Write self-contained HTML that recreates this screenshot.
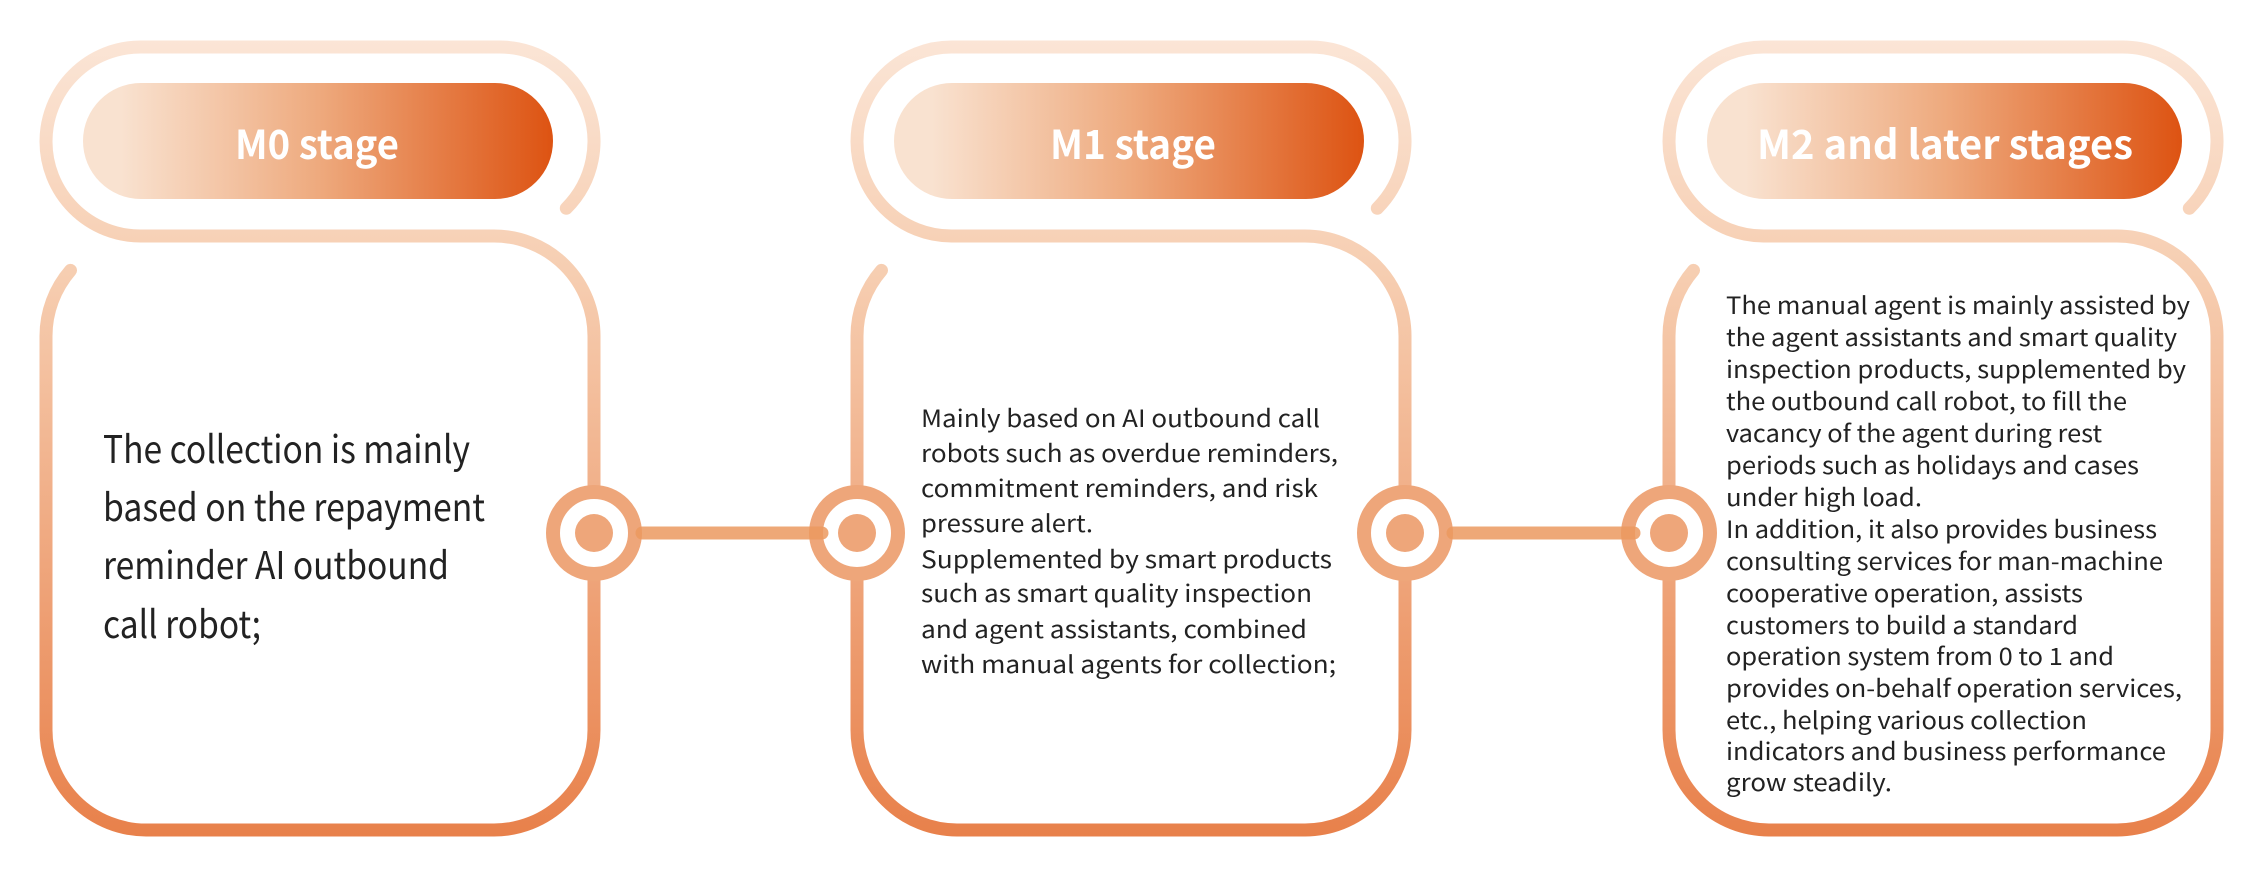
<!DOCTYPE html>
<html><head><meta charset="utf-8"><style>
html,body{margin:0;padding:0;background:#fff;}
svg{display:block;}
.t{font-family:"Noto Sans CJK SC","Liberation Sans",sans-serif;fill:#222;}
.h{font-family:"Noto Sans CJK SC","Liberation Sans",sans-serif;fill:#fff;font-weight:bold;font-size:40px;}
</style></head><body>
<svg width="2264" height="883" viewBox="0 0 2264 883" xmlns="http://www.w3.org/2000/svg">
<defs>
<linearGradient id="sg" gradientUnits="userSpaceOnUse" x1="0" y1="40" x2="0" y2="840">
<stop offset="0" stop-color="#fbe5d6"/>
<stop offset="0.3" stop-color="#f6cdb0"/>
<stop offset="1" stop-color="#e8804a"/>
</linearGradient>
<linearGradient id="pg" x1="0" y1="0" x2="1" y2="0">
<stop offset="0.08" stop-color="#f9e2d0"/>
<stop offset="0.5" stop-color="#eeaa7e"/>
<stop offset="1" stop-color="#dd5312"/>
</linearGradient>
</defs>
<g fill="none" stroke="url(#sg)" stroke-width="13" stroke-linecap="round">
<path d="M566.3 208.3 A94.5 94.5 0 0 0 499.5 47 L140.5 47 A94.5 94.5 0 0 0 140.5 236 L494 236 A100 100 0 0 1 594 336 L594 730 A100 100 0 0 1 494 830 L146 830 A100 100 0 0 1 46 730 L46 336 A100 100 0 0 1 70.5 270.4"/>
<path d="M1377.3 208.3 A94.5 94.5 0 0 0 1310.5 47 L951.5 47 A94.5 94.5 0 0 0 951.5 236 L1305 236 A100 100 0 0 1 1405 336 L1405 730 A100 100 0 0 1 1305 830 L957 830 A100 100 0 0 1 857 730 L857 336 A100 100 0 0 1 881.5 270.4"/>
<path d="M2189.3 208.3 A94.5 94.5 0 0 0 2122.5 47 L1763.5 47 A94.5 94.5 0 0 0 1763.5 236 L2117 236 A100 100 0 0 1 2217 336 L2217 730 A100 100 0 0 1 2117 830 L1769 830 A100 100 0 0 1 1669 730 L1669 336 A100 100 0 0 1 1693.5 270.4"/>
</g>
<rect x="83" y="83" width="470" height="116" rx="58" fill="url(#pg)"/>
<rect x="894" y="83" width="470" height="116" rx="58" fill="url(#pg)"/>
<rect x="1707" y="83" width="475" height="116" rx="58" fill="url(#pg)"/>
<text class="h" x="235" y="159" textLength="164" lengthAdjust="spacingAndGlyphs">M0 stage</text>
<text class="h" x="1050" y="159" textLength="166" lengthAdjust="spacingAndGlyphs">M1 stage</text>
<text class="h" x="1757" y="159" textLength="376" lengthAdjust="spacingAndGlyphs">M2 and later stages</text>
<g stroke="#eea67a" stroke-width="14" fill="#fff">
<circle cx="594" cy="533" r="41"/>
<circle cx="857" cy="533" r="41"/>
<circle cx="1405" cy="533" r="41"/>
<circle cx="1669" cy="533" r="41"/>
</g>
<g fill="#eea67a">
<circle cx="594" cy="533" r="19"/>
<circle cx="857" cy="533" r="19"/>
<circle cx="1405" cy="533" r="19"/>
<circle cx="1669" cy="533" r="19"/>
</g>
<g stroke="#eb995f" stroke-opacity="0.85" stroke-width="13" stroke-linecap="round">
<line x1="642" y1="533" x2="822" y2="533"/>
<line x1="1453" y1="533" x2="1634" y2="533"/>
</g>
<g class="t" font-size="38">
<text x="103" y="463" textLength="367" lengthAdjust="spacingAndGlyphs">The collection is mainly</text>
<text x="103" y="521" textLength="382" lengthAdjust="spacingAndGlyphs">based on the repayment</text>
<text x="103" y="579" textLength="346" lengthAdjust="spacingAndGlyphs">reminder AI outbound</text>
<text x="103" y="638" textLength="158" lengthAdjust="spacingAndGlyphs">call robot;</text>
</g>
<g class="t" font-size="24">
<text x="921" y="427" textLength="399" lengthAdjust="spacingAndGlyphs">Mainly based on AI outbound call</text>
<text x="921" y="462" textLength="417" lengthAdjust="spacingAndGlyphs">robots such as overdue reminders,</text>
<text x="921" y="497" textLength="397" lengthAdjust="spacingAndGlyphs">commitment reminders, and risk</text>
<text x="921" y="532" textLength="172" lengthAdjust="spacingAndGlyphs">pressure alert.</text>
<text x="921" y="568" textLength="411" lengthAdjust="spacingAndGlyphs">Supplemented by smart products</text>
<text x="921" y="602" textLength="391" lengthAdjust="spacingAndGlyphs">such as smart quality inspection</text>
<text x="921" y="638" textLength="386" lengthAdjust="spacingAndGlyphs">and agent assistants, combined</text>
<text x="921" y="673" textLength="415" lengthAdjust="spacingAndGlyphs">with manual agents for collection;</text>
</g>
<g class="t" font-size="24">
<text x="1726" y="314" textLength="464" lengthAdjust="spacingAndGlyphs">The manual agent is mainly assisted by</text>
<text x="1726" y="346" textLength="451" lengthAdjust="spacingAndGlyphs">the agent assistants and smart quality</text>
<text x="1726" y="378" textLength="460" lengthAdjust="spacingAndGlyphs">inspection products, supplemented by</text>
<text x="1726" y="410" textLength="401" lengthAdjust="spacingAndGlyphs">the outbound call robot, to fill the</text>
<text x="1726" y="442" textLength="376" lengthAdjust="spacingAndGlyphs">vacancy of the agent during rest</text>
<text x="1726" y="474" textLength="413" lengthAdjust="spacingAndGlyphs">periods such as holidays and cases</text>
<text x="1726" y="506" textLength="196" lengthAdjust="spacingAndGlyphs">under high load.</text>
<text x="1726" y="538" textLength="431" lengthAdjust="spacingAndGlyphs">In addition, it also provides business</text>
<text x="1726" y="570" textLength="437" lengthAdjust="spacingAndGlyphs">consulting services for man-machine</text>
<text x="1726" y="602" textLength="357" lengthAdjust="spacingAndGlyphs">cooperative operation, assists</text>
<text x="1726" y="634" textLength="352" lengthAdjust="spacingAndGlyphs">customers to build a standard</text>
<text x="1726" y="665" textLength="388" lengthAdjust="spacingAndGlyphs">operation system from 0 to 1 and</text>
<text x="1726" y="697" textLength="456" lengthAdjust="spacingAndGlyphs">provides on-behalf operation services,</text>
<text x="1726" y="729" textLength="361" lengthAdjust="spacingAndGlyphs">etc., helping various collection</text>
<text x="1726" y="760" textLength="440" lengthAdjust="spacingAndGlyphs">indicators and business performance</text>
<text x="1726" y="791" textLength="166" lengthAdjust="spacingAndGlyphs">grow steadily.</text>
</g>
</svg>
</body></html>
